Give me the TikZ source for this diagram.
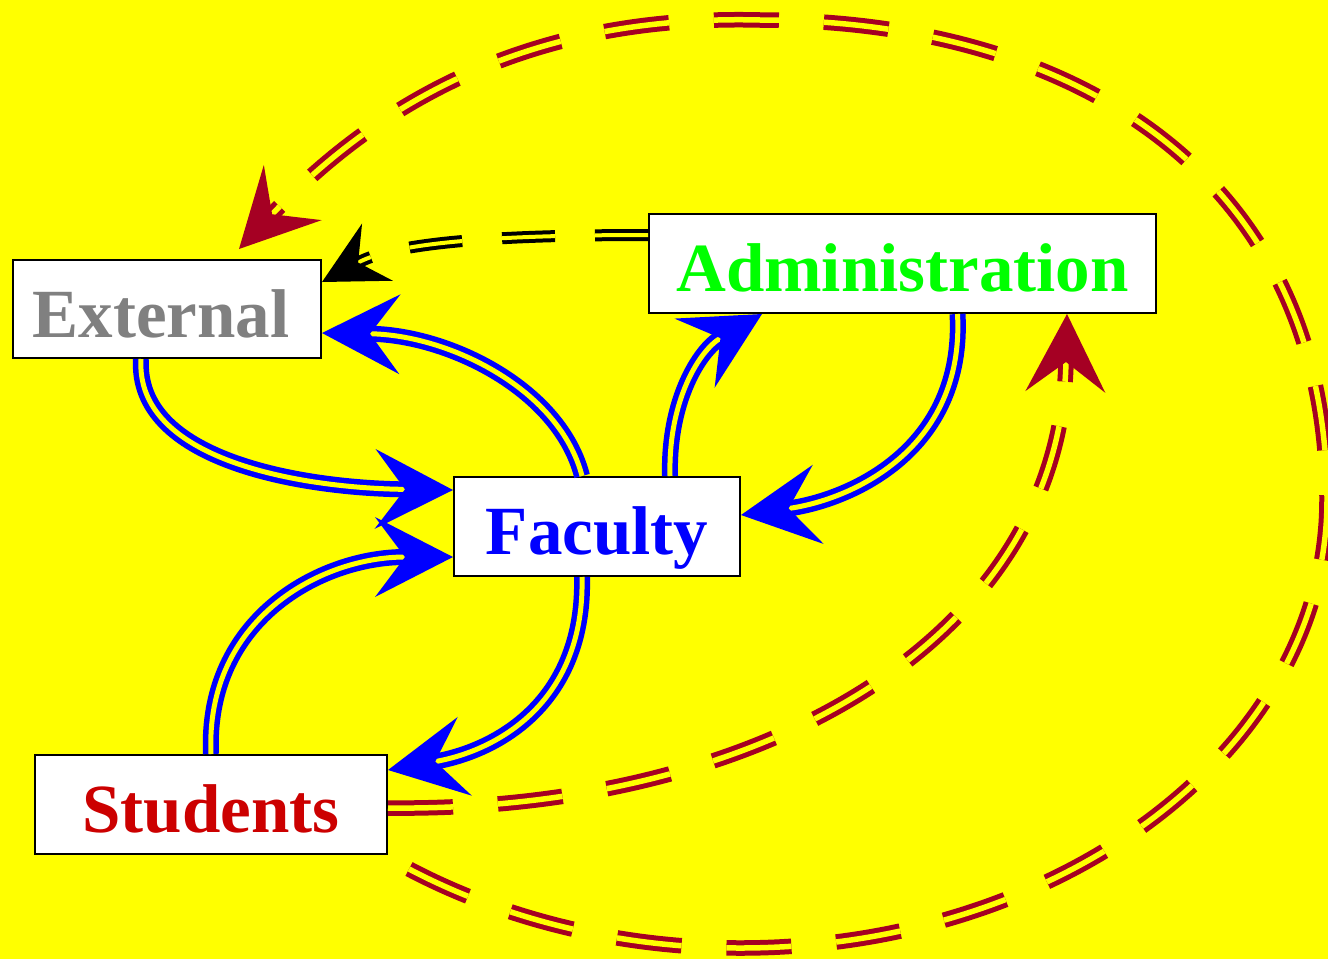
\documentclass[tikz,border=0pt]{standalone}
\usepackage{fontspec}
\setmainfont{Liberation Serif}
\usetikzlibrary{arrows.meta}
\definecolor{bg}{RGB}{255,255,0}
\definecolor{crim}{RGB}{165,0,35}
\definecolor{stud}{RGB}{204,0,0}
\definecolor{adm}{RGB}{0,255,0}
\definecolor{ext}{RGB}{128,128,128}
\definecolor{fac}{RGB}{0,0,255}
\begin{document}
\begin{tikzpicture}[x=1pt,y=-1pt,
  box/.style={draw=black,line width=2pt,fill=white,inner sep=0pt,
    text height=56pt,text depth=0pt,font=\fontsize{69}{80}\selectfont\bfseries},
  bigtip/.style={-{Stealth[length=78pt,width=80pt,inset=30pt,line width=0pt]}},
  smalltip/.style={-{Stealth[length=63pt,width=65pt,inset=22pt,line width=0pt]}},
  blueflow/.style={draw=fac,line width=5.5pt,double=bg,double distance=5pt,bigtip},
  redflow/.style={draw=crim,line width=5pt,double=bg,double distance=5.5pt,dash pattern=on 65pt off 45pt,bigtip},
  blackflow/.style={draw=black,line width=4pt,double=bg,double distance=4pt,dash pattern=on 53pt off 40pt,smalltip}
]
\useasboundingbox (0,0) rectangle (1328,959);
\clip (0,0) rectangle (1328,959);
\fill[bg] (0,0) rectangle (1328,959);

\node[box,text=ext,minimum width=308pt,minimum height=98pt] (E) at (167,309) {External\kern12pt};
\node[box,text=adm,minimum width=507pt,minimum height=99pt] (A) at (902.5,263.5) {Administration};
\node[box,text=fac,minimum width=286pt,minimum height=99pt] (F) at (597,526.5) {Faculty};
\node[box,text=stud,minimum width=352pt,minimum height=99pt] (S) at (211,804.5) {Students};

% red dashed: Students -> Administration
\draw[redflow] ([yshift=-3.5pt]S.east) .. controls (760,812) and (1060,640) .. ([xshift=164.5pt]A.south);
% red dashed: Students -> External (big loop)
\coordinate (r0) at ([xshift=21pt,yshift=-14pt]S.south east);
\coordinate (r4) at ([xshift=227pt,yshift=10pt]E.north west);
\draw[redflow] (r0) .. controls (506,920) and (621.5,948) .. (740,948)
  .. controls (1064,948) and (1327,747) .. (1327,500)
  .. controls (1327,180) and (1080,20) .. (760,20)
  .. controls (560,15) and (400,80) .. (r4);
% black dashed: Administration -> External
\draw[blackflow] ([yshift=28.5pt]A.west) .. controls (520,235) and (400,240) .. ([yshift=27pt]E.east);

% blue flows
\draw[blueflow] ([xshift=-26pt]E.south) .. controls (135,460) and (300,488) .. ([yshift=36.5pt]F.west);
\draw[blueflow] ([xshift=-15pt]F.north) .. controls (560,390) and (450,335) .. ([yshift=-24pt]E.east);
\draw[blueflow] (S.north) .. controls (205,620) and (320,557) .. ([yshift=-30.5pt]F.west);
\draw[blueflow] ([xshift=-15pt]F.south) .. controls (585,700) and (500,750) .. ([yshift=34.5pt]S.east);
\draw[blueflow] ([xshift=73pt]F.north) .. controls (668,400) and (700,350) .. ([xshift=-140.5pt]A.south);
\draw[blueflow] ([xshift=55pt]A.south) .. controls (965,450) and (850,500) .. ([yshift=11.5pt]F.east);
\end{tikzpicture}
\end{document}
